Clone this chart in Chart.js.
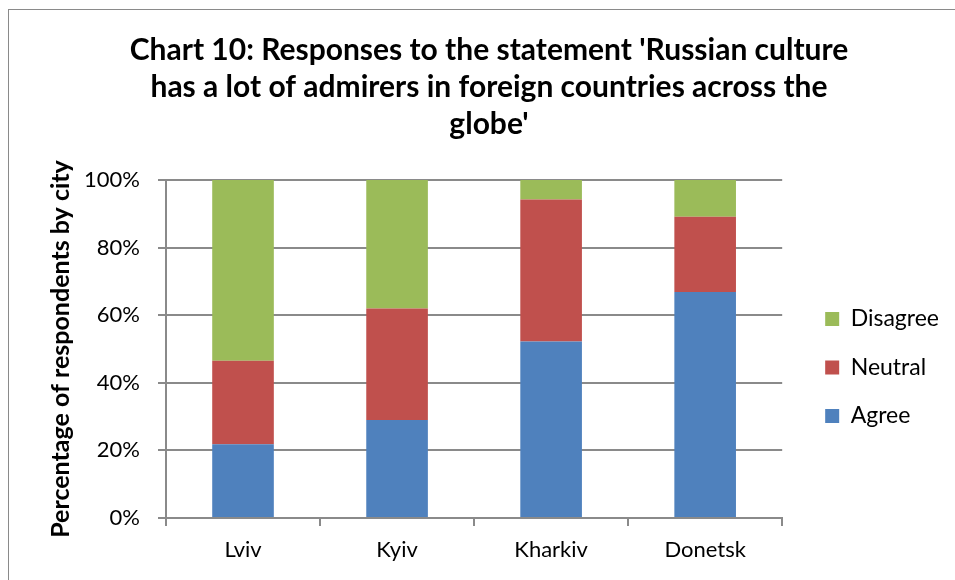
<!DOCTYPE html>
<html>
<head>
<meta charset="utf-8">
<title>Chart 10</title>
<script src="https://cdn.jsdelivr.net/npm/chart.js@4.4.0/dist/chart.umd.min.js"></script>
<style>
  html, body { margin: 0; padding: 0; background: #fff; overflow: hidden; }
  #wrap { position: relative; width: 955px; height: 580px; }
  #frame { position: absolute; left: 8px; top: 9px; width: 980px; height: 600px; border: 1.5px solid #8a8a8a; pointer-events: none; }
</style>
</head>
<body>
<div id="wrap">
  <canvas id="chart" width="955" height="580"></canvas>
  <div id="frame"></div>
</div>
<script>
const cities = ['Lviv', 'Kyiv', 'Kharkiv', 'Donetsk'];
const agree = [21.8, 29.0, 52.2, 66.9];
const neutral = [24.7, 33.0, 42.0, 22.2];
const disagree = [53.5, 38.0, 5.8, 10.9];
const yTicks = [0, 20, 40, 60, 80, 100];
const titleLines = [
  "Chart 10: Responses to the statement 'Russian culture",
  "has a lot of admirers in foreign countries across the",
  "globe'"
];

const FONT = 'Lato, Carlito, Calibri, "Open Sans", sans-serif';
const gridColor = '#8a8a8a';

let ctx = document.getElementById('chart').getContext('2d');

new Chart(ctx, {
  type: 'bar',
  data: {
    labels: cities,
    datasets: [
      { label: 'Agree', data: agree, backgroundColor: '#4f81bd' },
      { label: 'Neutral', data: neutral, backgroundColor: '#c0504d' },
      { label: 'Disagree', data: disagree, backgroundColor: '#9bbb59' }
    ]
  },
  options: {
    responsive: false,
    animation: false,
    devicePixelRatio: 1,
    layout: { padding: { left: 29, right: 6, top: 0, bottom: 0 } },
    datasets: { bar: { categoryPercentage: 0.8, barPercentage: 0.5, borderWidth: 0 } },
    plugins: {
      title: {
        display: true,
        text: titleLines,
        color: '#000',
        font: { family: FONT, size: 30, weight: 'bold', lineHeight: '37px' },
        padding: { top: 31.5, bottom: 37.5 }
      },
      legend: {
        position: 'right',
        fullSize: false,
        reverse: true,
        // empty title only pushes the items down to where Excel puts them
        title: { display: true, text: '', padding: 0, font: { size: 10, lineHeight: '37px' } },
        labels: {
          boxWidth: 14,
          boxHeight: 14,
          padding: 25.5,
          color: '#000',
          font: { family: FONT, size: 23 }
        }
      },
      tooltip: { enabled: false }
    },
    scales: {
      x: {
        stacked: true,
        afterFit: function (s) { s.height = 62; },
        grid: { display: true, drawOnChartArea: false, drawTicks: true, tickLength: 8, color: gridColor, lineWidth: 2 },
        border: { display: true, color: gridColor, width: 2 },
        ticks: { color: '#000', padding: 11, font: { family: FONT, size: 22 } }
      },
      y: {
        stacked: true,
        min: 0,
        max: 100,
        afterFit: function (s) { s.width = 137; },
        afterBuildTicks: function (s) { s.ticks = yTicks.map(v => ({ value: v })); },
        grid: { color: gridColor, lineWidth: 2, tickLength: 8 },
        border: { display: true, color: gridColor, width: 2 },
        ticks: {
          color: '#000',
          padding: 18,
          font: { family: FONT, size: 22 },
          callback: function (v) { return v + '%'; }
        },
        title: {
          display: true,
          text: 'Percentage of respondents by city',
          color: '#000',
          padding: { top: 17, bottom: 0 },
          font: { family: FONT, size: 25, weight: 'bold' }
        }
      },
      // spacer between plot area and legend
      gap: {
        type: 'linear',
        position: 'right',
        display: true,
        afterFit: function (s) { s.width = 17.5; },
        grid: { display: false },
        border: { display: false },
        ticks: { display: false }
      }
    }
  }
});
</script>
</body>
</html>
